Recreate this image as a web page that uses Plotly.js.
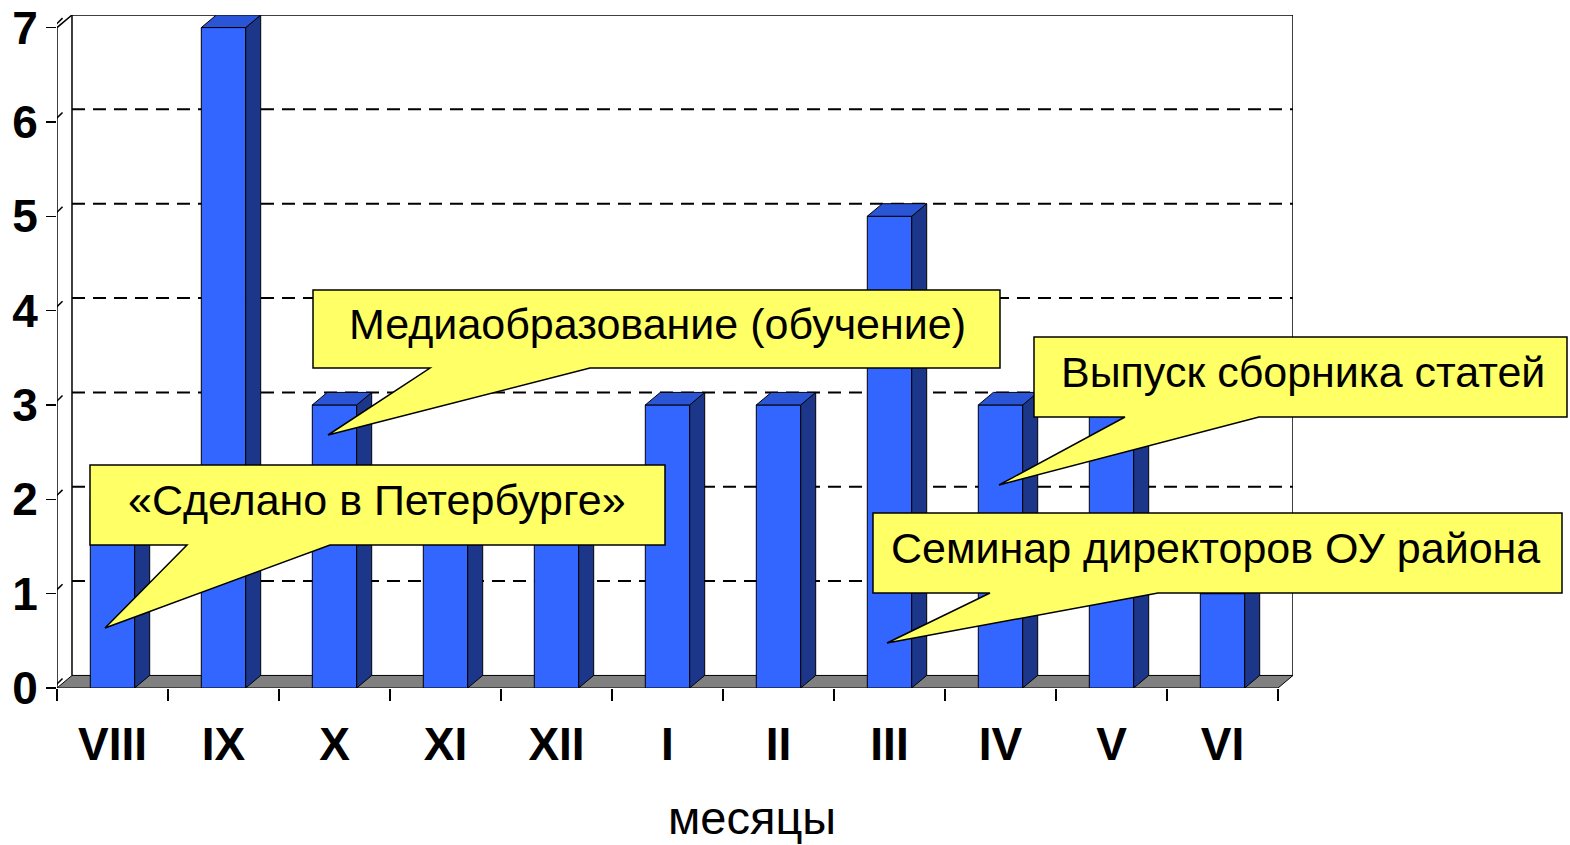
<!DOCTYPE html>
<html><head><meta charset="utf-8">
<script src="https://cdn.plot.ly/plotly-3.0.1.min.js"></script>
<style>html,body{margin:0;padding:0;background:#fff}#chart{width:1570px;height:845px}</style>
</head><body><div id="chart"></div>
<script>
// ---- data ----
const months = ['VIII','IX','X','XI','XII','I','II','III','IV','V','VI'];
const counts = [2, 7, 3, 2, 2, 3, 3, 5, 3, 3, 1];
const yTickVals = [0, 1, 2, 3, 4, 5, 6, 7];
const xTitle = 'месяцы';
const calloutTexts = ['«Сделано в Петербурге»', 'Медиаобразование (обучение)', 'Выпуск сборника статей', 'Семинар директоров ОУ района'];

// ---- geometry / style ----
const W = 1570, H = 845, L = 57, R = 277, T = 15, B = 157;
const PW = W - L - R, PH = H - T - B;
const DX = 0.135, DY = 0.133, BW = 0.4;
const N = months.length;
const YMAX = 7;
const FONT = 'Liberation Sans, Arial, Helvetica, sans-serif';

const idx = months.map((m, i) => i);

// side and top faces for the 3D look
const sideX = [], sideY = [], topX = [], topY = [];
counts.forEach((v, i) => {
  const r = i + BW / 2, l = i - BW / 2;
  sideX.push(r, r + DX, r + DX, r, r, null);
  sideY.push(0, DY, v + DY, v, 0, null);
  topX.push(l, l + DX, r + DX, r, l, null);
  topY.push(v, v + DY, v + DY, v, v, null);
});

const traces = [
  {type: 'bar', x: idx, y: counts, width: BW,
   marker: {color: '#3366ff', line: {color: '#000', width: 1}}, hoverinfo: 'skip'},
  {type: 'scatter', mode: 'lines', x: sideX, y: sideY, fill: 'toself', fillcolor: '#1c3789',
   line: {color: '#000', width: 1}, hoverinfo: 'skip'},
  {type: 'scatter', mode: 'lines', x: topX, y: topY, fill: 'toself', fillcolor: '#2a55d6',
   line: {color: '#000', width: 1}, hoverinfo: 'skip'}
];

const x0 = -0.5, x1 = N - 0.5;
const shapes = [];
// floor
shapes.push({type: 'path', layer: 'below', xref: 'x', yref: 'y',
  path: `M ${x0},0 L ${x1},0 L ${x1 + DX},${DY} L ${x0 + DX},${DY} Z`,
  fillcolor: '#808080', line: {color: '#000', width: 1}});
// dashed gridlines on back wall
yTickVals.filter(v => v > 0 && v < YMAX).forEach(v => {
  shapes.push({type: 'line', layer: 'below', xref: 'x', yref: 'y',
    x0: x0 + DX, x1: x1 + DX, y0: v + DY, y1: v + DY,
    line: {color: '#000', width: 2, dash: '13px,8px'}});
});
// back wall frame
shapes.push({type: 'path', layer: 'below', xref: 'x', yref: 'y',
  path: `M ${x0 + DX},${DY} L ${x0 + DX},${YMAX + DY} L ${x1 + DX},${YMAX + DY} L ${x1 + DX},${DY}`,
  line: {color: '#000', width: 1.5}});
// front value axis
shapes.push({type: 'path', layer: 'above', xref: 'x', yref: 'y',
  path: `M ${x0},0 L ${x0},${YMAX} L ${x0 + DX},${YMAX + DY}`,
  line: {color: '#000', width: 1.5}});
// small depth ticks on the value axis
yTickVals.forEach(v => {
  shapes.push({type: 'line', layer: 'above', xref: 'x', yref: 'y',
    x0: x0 - 0.045, y0: v - 0.01, x1: x0 + 0.05, y1: v + 0.1,
    line: {color: '#000', width: 1.5}});
});

// callouts (pixel geometry -> paper)
const px = (x) => ((x - L) / PW).toFixed(5);
const py = (y) => ((H - B - y) / PH).toFixed(5);
function callout(pts) {
  return 'M ' + pts.map(p => px(p[0]) + ',' + py(p[1])).join(' L ') + ' Z';
}
const calloutGeom = [
  {box: [90, 465, 665, 545], base: [330, 187], tip: [105, 628], text: [377, 500]},
  {box: [313, 290, 1000, 368], base: [590, 430], tip: [328, 435], text: [657, 324]},
  {box: [1034, 337, 1567, 417], base: [1259, 1125], tip: [999, 485], text: [1303, 372]},
  {box: [873, 513, 1562, 593], base: [1158, 990], tip: [887, 643], text: [1216, 548]}
];
const annotations = [];
calloutGeom.forEach((g, k) => {
  const [bx0, by0, bx1, by1] = g.box;
  shapes.push({type: 'path', layer: 'above', xref: 'paper', yref: 'paper',
    path: callout([[bx0, by0], [bx1, by0], [bx1, by1], [g.base[0], by1], g.tip, [g.base[1], by1], [bx0, by1]]),
    fillcolor: '#ffff66', line: {color: '#000', width: 1.5}});
  annotations.push({xref: 'paper', yref: 'paper', x: +px(g.text[0]), y: +py(g.text[1]),
    xanchor: 'center', yanchor: 'middle', showarrow: false, text: calloutTexts[k],
    font: {family: FONT, size: 43, color: '#000'}});
});
annotations.push({xref: 'paper', yref: 'paper', x: +px(752), y: +py(818),
  xanchor: 'center', yanchor: 'middle', showarrow: false, text: xTitle,
  font: {family: FONT, size: 47, color: '#000'}});

const boundaryVals = [];
for (let i = 0; i <= N; i++) boundaryVals.push(i - 0.5);

const layout = {
  width: W, height: H,
  margin: {l: L, r: R, t: T, b: B, pad: 0},
  paper_bgcolor: '#fff', plot_bgcolor: 'rgba(0,0,0,0)',
  showlegend: false,
  xaxis: {type: 'linear', range: [x0, x1 + DX], showgrid: false, zeroline: false, showline: false,
    tickmode: 'array', tickvals: idx, ticktext: months, ticks: '',
    tickfont: {family: FONT, size: 46, color: '#000', weight: 'bold'}, ticklabelstandoff: 25,
    minor: {tickmode: 'array', tickvals: boundaryVals, ticks: 'outside', ticklen: 12, tickwidth: 1.5, tickcolor: '#000', showgrid: false},
    fixedrange: true},
  yaxis: {type: 'linear', range: [0, YMAX + DY], showgrid: false, zeroline: false, showline: false,
    tickmode: 'array', tickvals: yTickVals, ticktext: yTickVals.map(String),
    ticks: 'outside', ticklen: 10, tickwidth: 1.5, tickcolor: '#000',
    tickfont: {family: FONT, size: 46, color: '#000', weight: 'bold'}, ticklabelstandoff: -1,
    fixedrange: true},
  shapes: shapes,
  annotations: annotations
};

Plotly.newPlot('chart', traces, layout, {displayModeBar: false, staticPlot: true});
</script>
</body></html>
